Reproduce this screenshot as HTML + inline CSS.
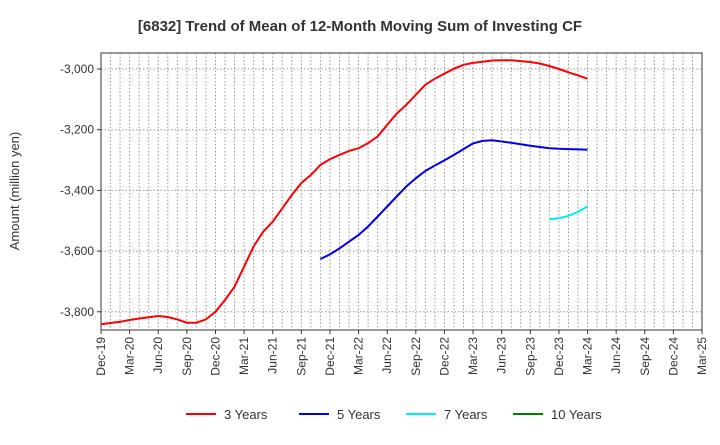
<!DOCTYPE html>
<html><head><meta charset="utf-8"><style>
body{margin:0;background:#fff;font-family:"Liberation Sans",sans-serif;}
svg text{font-family:"Liberation Sans",sans-serif;}
</style></head><body>
<svg id="chart" width="720" height="440" xmlns="http://www.w3.org/2000/svg">
<text x="360" y="31" text-anchor="middle" font-size="15" font-weight="bold" fill="#333">[6832]  Trend of Mean of 12-Month Moving Sum of Investing CF</text>
<text transform="translate(19,191) rotate(-90)" text-anchor="middle" font-size="13" fill="#333">Amount (million yen)</text>
<g id="grid"></g><g id="axes"></g><g id="series"></g><g id="legend"></g>
</svg>
<script>
const xLabels=["Dec-19","Mar-20","Jun-20","Sep-20","Dec-20","Mar-21","Jun-21","Sep-21","Dec-21","Mar-22","Jun-22","Sep-22","Dec-22","Mar-23","Jun-23","Sep-23","Dec-23","Mar-24","Jun-24","Sep-24","Dec-24","Mar-25"];
const yTicks=[-3000,-3200,-3400,-3600,-3800];
const y3=[-3841,-3837,-3833,-3827,-3822,-3818,-3814,-3817,-3825,-3836,-3836,-3825,-3800,-3761,-3717,-3651,-3585,-3536,-3503,-3459,-3415,-3376,-3349,-3316,-3297,-3283,-3270,-3261,-3244,-3222,-3184,-3147,-3118,-3085,-3052,-3032,-3015,-2999,-2986,-2980,-2976,-2972,-2971,-2971,-2974,-2977,-2982,-2990,-3000,-3011,-3021,-3032];
const start5=23;
const y5=[-3626,-3611,-3591,-3569,-3547,-3519,-3486,-3453,-3420,-3387,-3360,-3336,-3318,-3301,-3283,-3264,-3245,-3237,-3235,-3239,-3243,-3248,-3253,-3257,-3261,-3263,-3264,-3265,-3266];
const start7=47;
const y7=[-3495,-3492,-3484,-3471,-3453];
const y10=[];
const L=101,R=702,T=53,B=330,months=63;
const xs=m=>L+(R-L)*m/months;
const ys=v=>69+(v+3000)/(-200)*60.7;
const NS="http://www.w3.org/2000/svg";
function mk(tag,attrs,parent){const e=document.createElementNS(NS,tag);for(const k in attrs)e.setAttribute(k,attrs[k]);parent.appendChild(e);return e;}
const grid=document.getElementById('grid'),axes=document.getElementById('axes'),series=document.getElementById('series'),legend=document.getElementById('legend');
for(let m=1;m<months;m++){const l=mk('line',{x1:xs(m),x2:xs(m),y1:T,y2:B,stroke:'#999','stroke-dasharray':'1.5,2','stroke-width':1},grid);

}
yTicks.forEach(v=>{const l=mk('line',{x1:L,x2:R,y1:ys(v),y2:ys(v),stroke:'#999','stroke-dasharray':'1.5,2','stroke-width':1},grid);


const t=mk('text',{x:L-7,y:ys(v)+4,'text-anchor':'end','font-size':12,fill:'#333'},axes);t.textContent=v.toLocaleString('en-US');


mk('line',{x1:L-4,x2:L,y1:ys(v),y2:ys(v),stroke:'#333'},axes);});
const fr=mk('rect',{x:L,y:T,width:R-L,height:B-T,fill:'none',stroke:'#333','stroke-width':1},axes);


xLabels.forEach((s,i)=>{const x=xs(i*3);mk('line',{x1:x,x2:x,y1:B,y2:B+4,stroke:'#333'},axes);
const t=mk('text',{transform:`translate(${x+4},${B+7}) rotate(-90)`,'text-anchor':'end','font-size':12,fill:'#333'},axes);t.textContent=s;

});
function line(vals,start,color,name){if(!vals.length)return;const d=vals.map((v,i)=>(i?'L':'M')+xs(start+i).toFixed(1)+','+ys(v).toFixed(1)).join('');
const p=mk('path',{d:d,fill:'none',stroke:color,'stroke-width':2},series);

}
line(y3,0,'#ff0000','series-3-years');
line(y5,start5,'#0000ee','series-5-years');
line(y7,start7,'#00eeee','series-7-years');
line(y10,0,'#008000','series-10-years');
[["3 Years","#ff0000",186],["5 Years","#0000ee",299],["7 Years","#00eeee",406],["10 Years","#008000",513]].forEach(([lab,c,x])=>{
const g=mk('g',{},legend);


mk('line',{x1:x,x2:x+30,y1:414,y2:414,stroke:c,'stroke-width':2},g);
const t=mk('text',{x:x+38,y:419,'font-size':13,fill:'#333'},g);t.textContent=lab;});
</script>
</body></html>
